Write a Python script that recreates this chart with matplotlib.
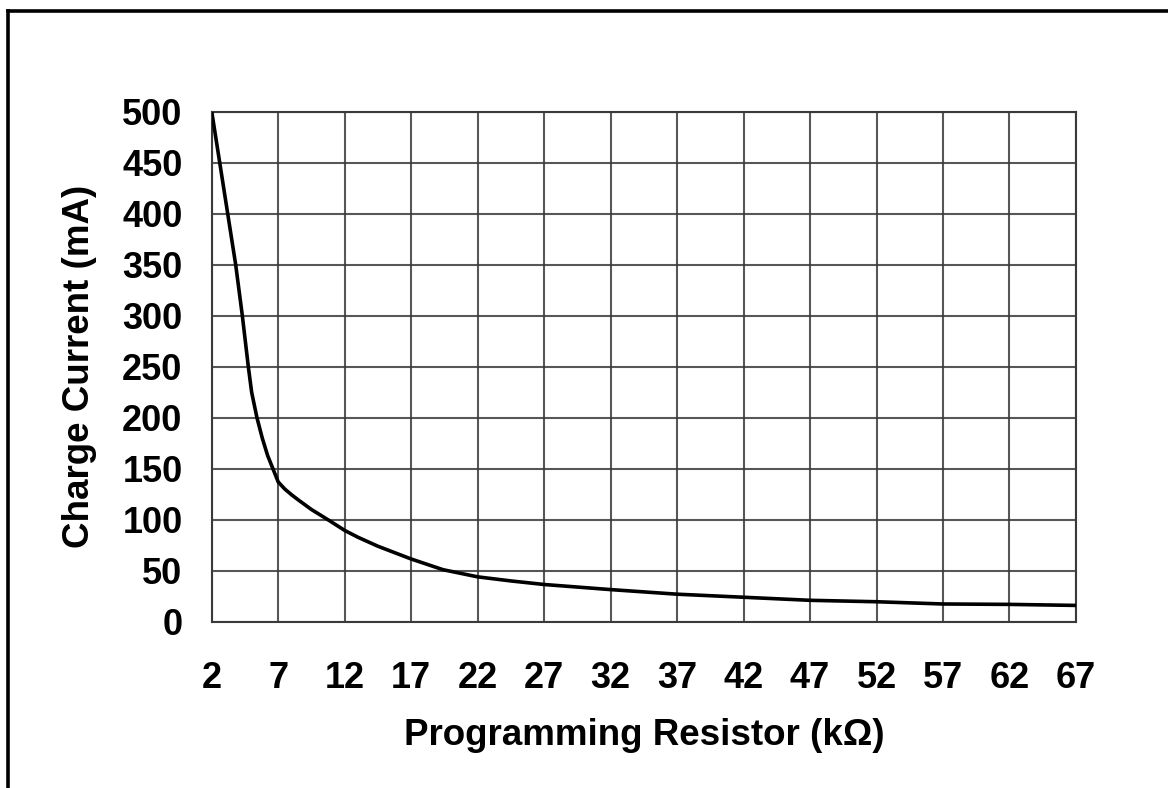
import matplotlib
matplotlib.use("Agg")
import matplotlib.pyplot as plt
from matplotlib.lines import Line2D

plt.rcParams['font.family'] = ['Liberation Sans', 'DejaVu Sans']

# charge current vs programming resistor
resistor_k = [2, 2.6, 3.2, 3.8, 4.3, 4.75, 5.0, 5.4, 5.8, 6.2, 6.6, 7, 7.5, 8,
              8.5, 9.5, 10.8, 12, 13, 14.5, 17, 19.4, 22, 24.5, 27, 32, 37, 42,
              47, 52, 57, 62, 67]
current_ma = [500, 450, 400, 350, 300, 250, 225, 200, 180, 163, 150, 137, 130, 124.5,
              119.5, 110, 99.5, 89.5, 82.8, 74, 61.5, 51, 44, 40, 36.5, 31.5, 27, 24,
              21, 19.6, 17.4, 17, 16]

x_ticks = list(range(2, 68, 5))
y_ticks = list(range(0, 501, 50))

fig = plt.figure(figsize=(11.68, 7.88), dpi=100)
ax = fig.add_axes([0.1813, 0.2110, 0.7399, 0.6472])

ax.plot(resistor_k, current_ma, color='black', lw=2.6, zorder=3,
        solid_joinstyle='round')

ax.set_xlim(2, 67)
ax.set_ylim(0, 500)
ax.set_xticks(x_ticks)
ax.set_yticks(y_ticks)
ax.grid(True, color='#3a3a3a', lw=1.5, alpha=0.85)
for s in ax.spines.values():
    s.set_color('#3a3a3a')
    s.set_linewidth(1.5)

ax.tick_params(axis='both', length=0, labelsize=26)
ax.tick_params(axis='y', pad=21)
ax.tick_params(axis='x', pad=28)
for lab in ax.get_xticklabels() + ax.get_yticklabels():
    lab.set_fontweight('bold')

ax.set_xlabel('Programming Resistor (kΩ)', fontsize=26.5, fontweight='bold', labelpad=16)
ax.set_ylabel('Charge Current (mA)', fontsize=26.5, fontweight='bold', labelpad=18)

# page frame (top and left edges visible)
fig.add_artist(Line2D([7.5 / 1168, 1], [1 - 10.7 / 788, 1 - 10.7 / 788],
                      transform=fig.transFigure, color='black', lw=2.6))
fig.add_artist(Line2D([7.5 / 1168, 7.5 / 1168], [0, 1 - 10.7 / 788],
                      transform=fig.transFigure, color='black', lw=2.6))

fig.savefig('out.png', dpi=100)
